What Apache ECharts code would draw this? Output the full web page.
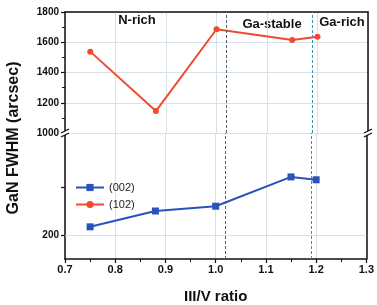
<!DOCTYPE html>
<html>
<head>
<meta charset="utf-8">
<script src="https://cdn.jsdelivr.net/npm/echarts@6/dist/echarts.min.js"></script>
<style>
  html, body { margin: 0; padding: 0; background: #fff; }
  #chart { width: 377px; height: 305px; }
</style>
</head>
<body>
<div id="chart"></div>
<script>
// III/V ratio and FWHM values
var ratio = [0.75, 0.88, 1.0, 1.15, 1.2];
var fwhm002 = [217, 250, 260, 321, 315];
var fwhm102 = [1538, 1145, 1686, 1615, 1637];
var regionBounds = [1.025, 1.19];
var lowerTicks = [200, 300];
var lowerLabels = [200];

var font = 'Liberation Sans, Arial, sans-serif';
var gridCol = '#d8e0ea';
var red = '#f2492f';
var blue = '#2a52b8';

var chart = echarts.init(document.getElementById('chart'), null, { renderer: 'canvas' });

function pairs(ys) {
  return ratio.map(function (x, i) { return [x, ys[i]]; });
}
function plain(v) { return String(v); }

var xBase = {
  type: 'value', min: 0.7, max: 1.3, interval: 0.1,
  splitLine: { show: true, lineStyle: { color: gridCol, width: 1 } }
};

var option = {
  animation: false,
  backgroundColor: '#fff',
  grid: [
    { left: 65, right: 9, top: 12, height: 121 },
    { left: 65, right: 9, top: 133, height: 126 }
  ],
  xAxis: [
    Object.assign({}, xBase, {
      gridIndex: 0, position: 'top',
      axisLine: { show: true, lineStyle: { color: '#111', width: 1.5 } },
      axisTick: { show: false }, axisLabel: { show: false }
    }),
    Object.assign({}, xBase, {
      gridIndex: 1, position: 'bottom',
      name: 'III/V ratio', nameLocation: 'middle', nameGap: 30,
      nameTextStyle: { fontFamily: font, fontWeight: 'bold', fontSize: 15, color: '#111' },
      axisLine: { show: true, lineStyle: { color: '#111', width: 1.5 } },
      axisTick: { show: true, inside: false, length: 4, lineStyle: { color: '#111', width: 1.2 } },
      minorTick: { show: true, splitNumber: 2, length: 3, lineStyle: { color: '#111', width: 1 } },
      axisLabel: {
        fontFamily: font, fontWeight: 'bold', fontSize: 11, color: '#111', margin: 5,
        formatter: function (v) { return v.toFixed(1); }
      }
    })
  ],
  yAxis: [
    {
      type: 'value', gridIndex: 0, min: 1000, max: 1800, interval: 200,
      axisLine: { show: true, lineStyle: { color: '#111', width: 1.5 } },
      axisTick: { show: true, length: 4, lineStyle: { color: '#111', width: 1.2 } },
      minorTick: { show: true, splitNumber: 2, length: 3, lineStyle: { color: '#111' } },
      splitLine: { show: true, lineStyle: { color: gridCol } },
      axisLabel: { fontFamily: font, fontWeight: 'bold', fontSize: 10, color: '#111', margin: 6, formatter: plain }
    },
    {
      type: 'value', gridIndex: 0, position: 'right', min: 1000, max: 1800,
      axisLine: { show: true, lineStyle: { color: '#111', width: 1.5 } },
      axisTick: { show: false }, axisLabel: { show: false }, splitLine: { show: false }
    },
    {
      type: 'value', gridIndex: 1, min: 150, max: 412.5,
      axisLine: { show: true, lineStyle: { color: '#111', width: 1.5 } },
      axisTick: { show: true, length: 4, customValues: lowerTicks, lineStyle: { color: '#111', width: 1.2 } },
      splitLine: { show: false },
      axisLabel: { customValues: lowerLabels, fontFamily: font, fontWeight: 'bold', fontSize: 10, color: '#111', margin: 6, formatter: plain }
    },
    {
      type: 'value', gridIndex: 1, position: 'right', min: 150, max: 412.5,
      axisLine: { show: true, lineStyle: { color: '#111', width: 1.5 } },
      axisTick: { show: false }, axisLabel: { show: false }, splitLine: { show: false }
    }
  ],
  legend: {
    orient: 'vertical', left: 70, top: 177, itemWidth: 28, itemHeight: 9, itemGap: 6,
    textStyle: { fontFamily: font, fontSize: 11, color: '#222' },
    data: ['(002)', '(102)']
  },
  series: [
    {
      name: '(102)', type: 'line', xAxisIndex: 0, yAxisIndex: 0,
      data: pairs(fwhm102),
      symbol: 'circle', symbolSize: 6,
      lineStyle: { color: red, width: 2 }, itemStyle: { color: red },
      markLine: {
        silent: true, symbol: 'none', label: { show: false },
        data: [
          { xAxis: regionBounds[0], lineStyle: { color: '#4f5f6e', type: [3, 2], width: 1 } },
          { xAxis: regionBounds[1], lineStyle: { color: '#3d8fb0', type: [3, 2], width: 1 } }
        ]
      }
    },
    {
      name: '(002)', type: 'line', xAxisIndex: 1, yAxisIndex: 2,
      data: pairs(fwhm002),
      symbol: 'rect', symbolSize: 7,
      lineStyle: { color: blue, width: 2 }, itemStyle: { color: blue },
      markLine: {
        silent: true, symbol: 'none', label: { show: false },
        data: [
          { yAxis: lowerLabels[0], lineStyle: { color: gridCol, type: 'solid', width: 1 } },
          { xAxis: regionBounds[0], lineStyle: { color: '#4f5f6e', type: [3, 2], width: 1 } },
          { xAxis: regionBounds[1], lineStyle: { color: '#3d8fb0', type: [3, 2], width: 1 } }
        ]
      }
    }
  ],
  graphic: [
    {
      type: 'text', x: 14, y: 138, rotation: Math.PI / 2,
      style: { text: 'GaN FWHM (arcsec)', fontFamily: font, fontWeight: 'bold', fontSize: 16,
               fill: '#111', align: 'center', verticalAlign: 'middle' }
    },
    { type: 'text', x: 137, y: 20, style: { text: 'N-rich', fontFamily: font, fontWeight: 'bold', fontSize: 13, fill: '#111', align: 'center', verticalAlign: 'middle' } },
    { type: 'text', x: 272, y: 24, style: { text: 'Ga-stable', fontFamily: font, fontWeight: 'bold', fontSize: 13, fill: '#111', align: 'center', verticalAlign: 'middle' } },
    { type: 'text', x: 342, y: 22, style: { text: 'Ga-rich', fontFamily: font, fontWeight: 'bold', fontSize: 13, fill: '#111', align: 'center', verticalAlign: 'middle' } },
    // axis break marks
    { type: 'rect', shape: { x: 61, y: 131, width: 8, height: 4 }, style: { fill: '#fff' }, z: 100 },
    { type: 'line', shape: { x1: 61, y1: 133, x2: 69, y2: 129 }, style: { stroke: '#111', lineWidth: 1.3 }, z: 101 },
    { type: 'line', shape: { x1: 61, y1: 137, x2: 69, y2: 133 }, style: { stroke: '#111', lineWidth: 1.3 }, z: 101 },
    { type: 'rect', shape: { x: 364, y: 131, width: 8, height: 4 }, style: { fill: '#fff' }, z: 100 },
    { type: 'line', shape: { x1: 364, y1: 133, x2: 372, y2: 129 }, style: { stroke: '#111', lineWidth: 1.3 }, z: 101 },
    { type: 'line', shape: { x1: 364, y1: 137, x2: 372, y2: 133 }, style: { stroke: '#111', lineWidth: 1.3 }, z: 101 }
  ]
};

chart.setOption(option);
</script>
</body>
</html>
